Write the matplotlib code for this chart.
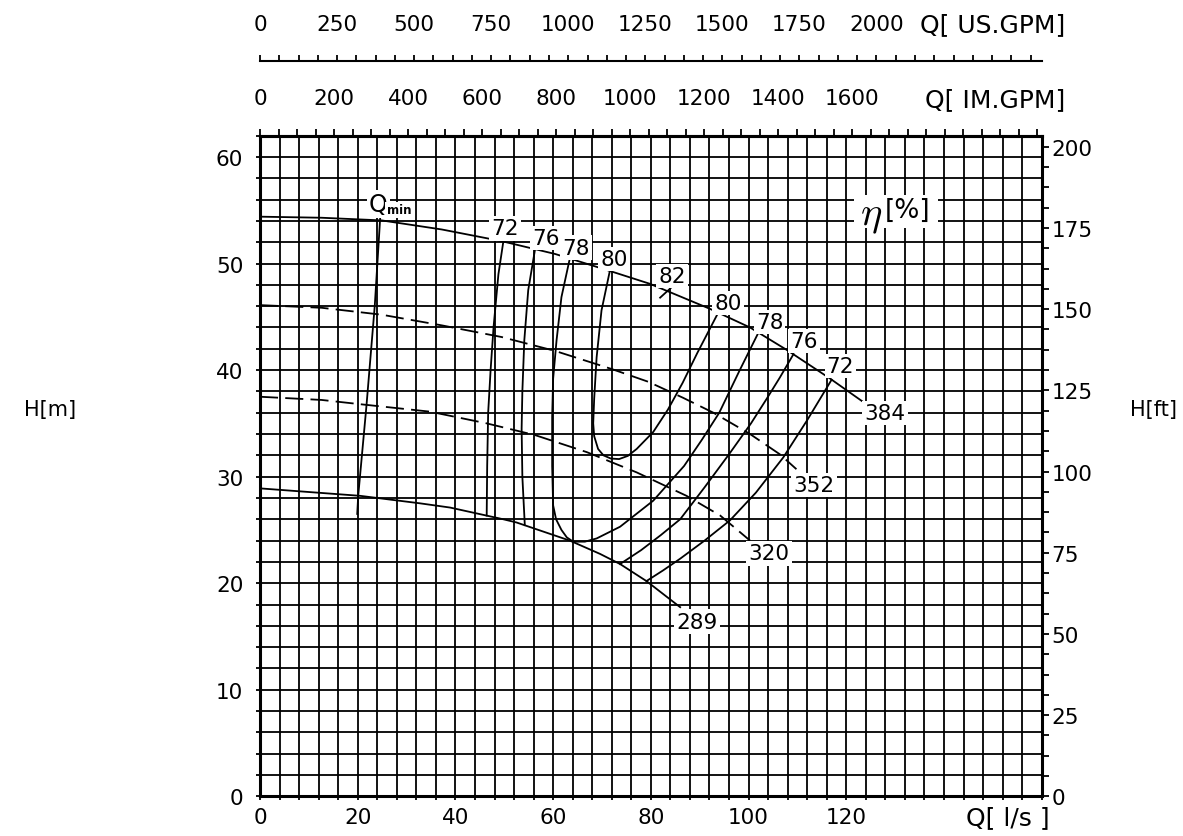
import numpy as np
import matplotlib.pyplot as plt
from matplotlib.ticker import FixedLocator

plt.rcParams['font.family'] = ['DejaVu Sans']

# H-Q curves per impeller diameter, Q [l/s], H [m]
q_384 = [0, 12.6, 24.9, 37.2, 49.5, 60.4, 71.3, 79.8, 92.1, 100.3, 107.8, 116.7, 123.5]
h_384 = [54.4, 54.3, 54.05, 53.2, 52.1, 50.9, 49.35, 48.1, 45.75, 44.0, 41.9, 39.2, 37.0]

q_352 = [0, 12.6, 24.9, 37.2, 49.5, 60.4, 72.0, 79.5, 86.6, 92.8, 100.3, 106.4, 109.8]
h_352 = [46.1, 45.85, 45.2, 44.2, 43.1, 41.8, 40.1, 38.9, 37.4, 36.0, 34.0, 32.1, 30.7]

q_320 = [0, 12.6, 20.5, 34.8, 46.4, 56.3, 66.9, 77.1, 87.3, 94.2, 100.3]
h_320 = [37.5, 37.2, 36.8, 36.1, 35.0, 33.9, 32.3, 30.4, 28.2, 26.35, 24.0]

q_289 = [0, 20.5, 32.7, 38.9, 49.8, 52.5, 63.4, 69.6, 73.7, 79.1, 86.0]
h_289 = [28.9, 28.2, 27.5, 27.1, 26.0, 25.7, 24.0, 22.75, 21.8, 20.2, 17.75]

# Q min line
q_min = [24.6, 23.5, 21.8, 20.1, 19.9]
h_min = [54.3, 46.1, 36.7, 28.2, 26.5]

# iso-efficiency lines
q_72l = [49.8, 48.8, 47.8, 47.2, 46.7, 46.5, 46.4]
h_72l = [52.05, 49.0, 44.0, 40.0, 36.0, 31.0, 26.35]
q_76l = [56.3, 54.9, 54.1, 53.7, 53.55, 53.7, 54.2]
h_76l = [51.35, 47.5, 42.8, 38.0, 34.5, 30.0, 25.45]
q_78 = [63.4, 61.7, 60.7, 60.0, 59.8, 59.8, 60.0, 60.6, 61.7, 62.8, 64.1, 66.5, 68.9,
        73.7, 80.5, 86.8, 90.5, 94.0, 98.2, 102.0]
h_78 = [50.45, 46.85, 42.8, 39.2, 35.6, 31.0, 27.3, 26.0, 25.0, 24.3, 23.9, 23.9, 24.2,
        25.3, 27.75, 31.0, 33.5, 36.0, 40.0, 43.5]
q_80 = [71.6, 69.9, 68.9, 68.4, 68.2, 68.4, 69.2, 70.3, 71.8, 73.5, 75.3, 77.1, 80.5,
        83.5, 86.5, 89.5, 93.8]
h_80 = [49.3, 45.6, 41.2, 37.3, 35.0, 33.8, 32.6, 32.0, 31.7, 31.65, 31.95, 32.6, 34.2,
        36.3, 38.8, 41.6, 45.4]
q_76r = [73.7, 78.0, 82.0, 86.0, 91.0, 96.0, 100.5, 103.7, 106.4, 109.2]
h_76r = [21.8, 23.1, 24.5, 26.0, 29.0, 32.1, 35.0, 37.3, 39.3, 41.5]
q_72r = [79.1, 82.5, 86.0, 91.0, 96.2, 101.5, 107.1, 112.0, 117.0]
h_72r = [20.2, 21.2, 22.3, 24.0, 25.9, 28.5, 31.8, 35.3, 39.1]
q_82 = [81.9, 84.3]
h_82 = [46.8, 47.8]

eff_labels = ["72", "76", "78", "80", "82", "80", "78", "76", "72"]
eff_lab_q = [50.1, 58.5, 64.7, 72.4, 84.3, 95.8, 104.3, 111.4, 118.8]
eff_lab_h = [53.3, 52.4, 51.5, 50.4, 48.8, 46.3, 44.5, 42.7, 40.4]

dia_labels = ["384", "352", "320", "289"]
dia_lab_q = [127.9, 113.4, 104.2, 89.5]
dia_lab_h = [36.0, 29.2, 22.8, 16.4]

x_major = list(range(0, 121, 20))
y_major = list(range(0, 61, 10))
ft_major = list(range(0, 201, 25))
im_major = list(range(0, 1601, 200))
us_major = list(range(0, 2001, 250))

LPS_IM = 13.198
LPS_US = 15.850

fig = plt.figure(figsize=(11.83, 8.37), dpi=100)
ax = fig.add_axes([260 / 1183, 39.7 / 837, 781.7 / 1183, 660.6 / 837])
ax.set_xlim(0, 160)
ax.set_ylim(0, 62)

ax.set_xticks(x_major)
ax.set_xticks(np.arange(0, 161, 4), minor=True)
ax.set_yticks(y_major)
ax.set_yticks(np.arange(0, 63, 2), minor=True)
ax.grid(which='both', color='black', lw=1.3)
ax.set_axisbelow(True)
ax.tick_params(which='both', direction='out', length=3, width=1.3, labelsize=15.5,
               top=False, right=False)
ax.tick_params(axis='x', pad=5)
ax.tick_params(axis='y', pad=9)
for s in ax.spines.values():
    s.set_linewidth(2.2)

lw = 1.3
ax.plot(q_384, h_384, color='black', lw=lw, zorder=3)
ax.plot(q_352, h_352, color='black', lw=lw, ls=(0, (10, 4)), zorder=3)
ax.plot(q_320, h_320, color='black', lw=lw, ls=(0, (10, 4)), zorder=3)
ax.plot(q_289, h_289, color='black', lw=lw, zorder=3)
ax.plot(q_min, h_min, color='black', lw=lw, zorder=3)
for q, h in [(q_72l, h_72l), (q_76l, h_76l), (q_78, h_78), (q_80, h_80),
             (q_76r, h_76r), (q_72r, h_72r), (q_82, h_82)]:
    ax.plot(q, h, color='black', lw=lw, zorder=3)

box = dict(facecolor='white', edgecolor='none', pad=1.5)
for t, q, h in zip(eff_labels, eff_lab_q, eff_lab_h):
    ax.text(q, h, t, fontsize=15.5, ha='center', va='center', bbox=box, zorder=4)
for t, q, h in zip(dia_labels, dia_lab_q, dia_lab_h):
    ax.text(q, h, t, fontsize=15.5, ha='center', va='center', bbox=box, zorder=4)

# Q min label
ax.text(24.2, 55.6, 'Q', fontsize=17, ha='center', va='center', bbox=box, zorder=4)
ax.text(28.4, 55.05, 'min', fontsize=8.5, fontweight='bold', ha='center', va='center',
        bbox=dict(facecolor='white', edgecolor='none', pad=1), zorder=4)

# eta [%] label
ax.text(130.2, 54.9, ' ' * 10, fontsize=17, ha='center', va='center',
        bbox=dict(facecolor='white', edgecolor='none', pad=3), zorder=4)
ax.text(125.0, 54.6, r'$\eta$', fontsize=29, ha='center', va='center', zorder=5,
        math_fontfamily='cm')
ax.text(132.6, 55.0, '[%]', fontsize=19, ha='center', va='center', zorder=5)

# imperial gpm on top edge
im = ax.secondary_xaxis('top', functions=(lambda q: q * LPS_IM, lambda g: g / LPS_IM))
im.set_xticks(im_major)
im.xaxis.set_minor_locator(FixedLocator(np.arange(0, 2101, 50)))
im.tick_params(which='both', direction='out', length=5, width=1.3, labelsize=15.5, pad=15)
for s in im.spines.values():
    s.set_linewidth(2.2)

# US gpm on separate line above
us = ax.secondary_xaxis(1.1135, functions=(lambda q: q * LPS_US, lambda g: g / LPS_US))
us.set_xticks(us_major)
us.xaxis.set_minor_locator(FixedLocator(np.arange(0, 2501, 62.5)))
us.tick_params(which='both', direction='out', length=4.5, width=1.3, labelsize=15.5, pad=15)
for s in us.spines.values():
    s.set_linewidth(1.5)

# feet on the right
ft = ax.secondary_yaxis('right', functions=(lambda h: h / 0.3048, lambda f: f * 0.3048))
ft.set_yticks(ft_major)
ft.yaxis.set_minor_locator(FixedLocator(np.arange(0, 203, 6.25)))
ft.tick_params(which='both', direction='out', length=5, width=1.3, labelsize=15.5, pad=2)

fig.text(50 / 1183, 1 - 410 / 837, 'H[m]', fontsize=15, ha='center', va='center')
fig.text(1153 / 1183, 1 - 410 / 837, 'H[ft]', fontsize=15, ha='center', va='center')
fig.text(1008 / 1183, 1 - 818 / 837, 'Q[ l/s ]', fontsize=18, ha='center', va='center')
fig.text(993 / 1183, 1 - 25 / 837, 'Q[ US.GPM]', fontsize=18, ha='center', va='center')
fig.text(995 / 1183, 1 - 100 / 837, 'Q[ IM.GPM]', fontsize=18, ha='center', va='center')

fig.savefig('out.png', dpi=100, facecolor='white')
